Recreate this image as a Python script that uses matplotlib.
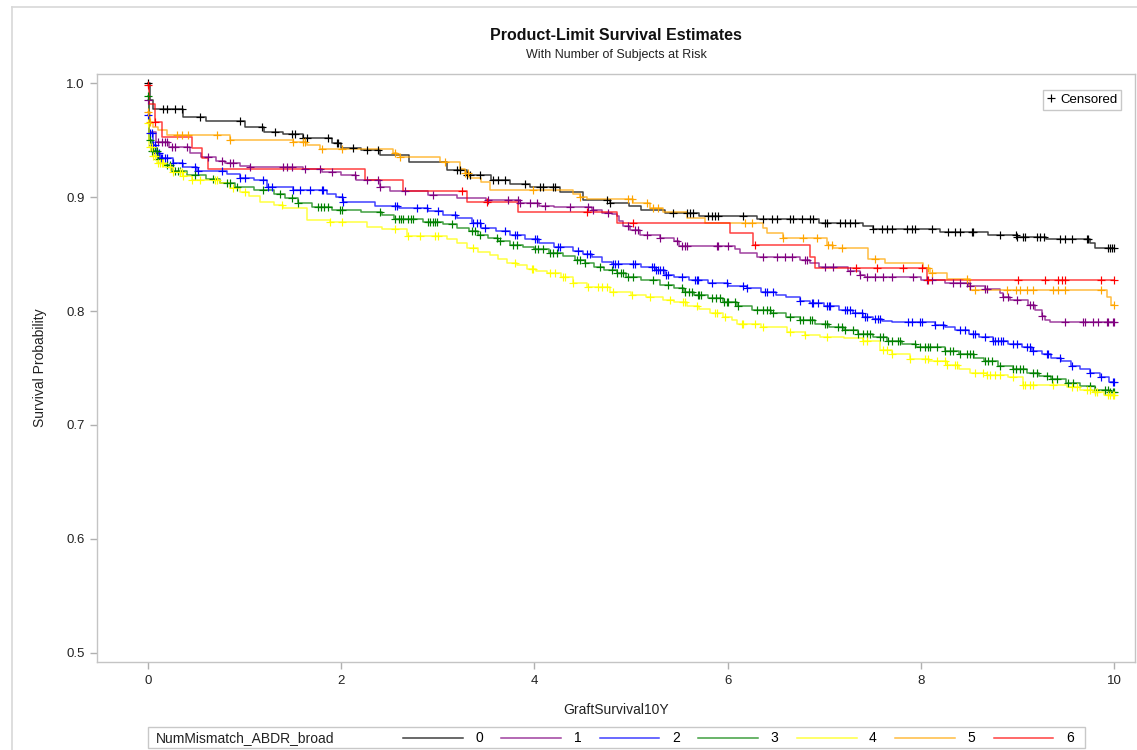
import numpy as np
import matplotlib
matplotlib.use("Agg")
import matplotlib.pyplot as plt
from matplotlib.lines import Line2D
from matplotlib.patches import Rectangle

plt.rcParams['font.family'] = ['Liberation Sans', 'DejaVu Sans']

groups = ["0", "1", "2", "3", "4", "5", "6"]
colors = ["#000000", "#800080", "#0000FF", "#008000", "#FFFF00", "#FFA500", "#FF0000"]

t0 = [0, 0.02, 0.05, 0.36, 0.6, 1.0, 1.2, 1.4, 1.6, 1.9, 2.0, 2.2, 2.4, 2.7, 3.1, 3.3, 3.55, 3.75,
      3.95, 4.26, 4.5, 4.78, 4.98, 5.1, 5.35, 5.7, 6.3, 6.95, 7.4, 7.5, 8.2, 8.7, 9.0, 9.3, 9.75, 9.8]
s0 = [1.0, 0.985, 0.977, 0.970, 0.967, 0.961, 0.957, 0.955, 0.952, 0.947, 0.943, 0.941, 0.937, 0.931,
      0.924, 0.919, 0.915, 0.911, 0.909, 0.904, 0.897, 0.895, 0.892, 0.889, 0.886, 0.883, 0.881, 0.877,
      0.875, 0.872, 0.869, 0.867, 0.865, 0.863, 0.860, 0.855]

t1 = [0, 0.01, 0.08, 0.22, 0.43, 0.55, 0.7, 0.8, 0.95, 1.06, 1.6, 1.8, 2.0, 2.15, 2.4, 2.5, 2.9, 3.2,
      3.5, 3.85, 4.05, 4.2, 4.6, 4.7, 4.8, 4.85, 4.88, 4.92, 4.99, 5.09, 5.3, 5.45, 5.5, 6.08, 6.13,
      6.3, 6.75, 6.85, 6.95, 7.25, 7.37, 7.42, 8.0, 8.25, 8.5, 8.66, 8.82, 8.85, 8.92, 9.11, 9.18,
      9.25, 9.29, 9.34]
s1 = [0.985, 0.957, 0.948, 0.944, 0.939, 0.935, 0.932, 0.930, 0.927, 0.926, 0.925, 0.922, 0.919,
      0.915, 0.909, 0.905, 0.902, 0.899, 0.897, 0.895, 0.892, 0.891, 0.889, 0.886, 0.885, 0.883,
      0.879, 0.875, 0.871, 0.867, 0.864, 0.861, 0.857, 0.854, 0.851, 0.847, 0.845, 0.842, 0.839,
      0.835, 0.832, 0.830, 0.827, 0.825, 0.822, 0.819, 0.816, 0.812, 0.810, 0.805, 0.801, 0.796,
      0.792, 0.790]

t2 = [0, 0.01, 0.05, 0.08, 0.12, 0.26, 0.36, 0.51, 0.82, 0.95, 1.1, 1.23, 1.5, 1.85, 1.95, 2.02,
      2.35, 2.6, 2.9, 3.05, 3.2, 3.35, 3.45, 3.6, 3.75, 3.9, 4.05, 4.2, 4.4, 4.5, 4.6, 4.7, 4.8, 5.1,
      5.25, 5.35, 5.45, 5.6, 5.8, 6.0, 6.2, 6.35, 6.5, 6.6, 6.75, 6.85, 7.0, 7.15, 7.3, 7.4, 7.5,
      7.6, 7.7, 8.15, 8.25, 8.35, 8.5, 8.6, 8.75, 8.9, 9.05, 9.15, 9.25, 9.35, 9.45, 9.55, 9.65,
      9.75, 9.85, 9.95]
s2 = [0.972, 0.956, 0.946, 0.939, 0.934, 0.930, 0.926, 0.923, 0.920, 0.917, 0.915, 0.909, 0.906,
      0.903, 0.900, 0.896, 0.892, 0.890, 0.888, 0.884, 0.882, 0.877, 0.873, 0.870, 0.867, 0.863,
      0.860, 0.856, 0.853, 0.850, 0.847, 0.843, 0.841, 0.839, 0.836, 0.832, 0.830, 0.827, 0.825,
      0.822, 0.820, 0.817, 0.814, 0.812, 0.809, 0.807, 0.804, 0.801, 0.798, 0.795, 0.793, 0.791,
      0.790, 0.788, 0.786, 0.783, 0.780, 0.777, 0.774, 0.771, 0.768, 0.765, 0.762, 0.759, 0.756,
      0.752, 0.749, 0.746, 0.742, 0.738]

t3 = [0, 0.01, 0.04, 0.1, 0.16, 0.25, 0.4, 0.6, 0.75, 0.9, 1.1, 1.3, 1.42, 1.55, 1.7, 1.9, 2.2,
      2.42, 2.55, 2.85, 3.05, 3.2, 3.32, 3.42, 3.52, 3.62, 3.75, 3.88, 4.0, 4.15, 4.3, 4.42, 4.52,
      4.62, 4.72, 4.85, 4.95, 5.1, 5.3, 5.45, 5.55, 5.65, 5.8, 5.95, 6.1, 6.25, 6.45, 6.6, 6.75,
      6.9, 7.05, 7.2, 7.35, 7.5, 7.65, 7.8, 7.95, 8.25, 8.4, 8.55, 8.65, 8.8, 8.95, 9.1, 9.22, 9.35,
      9.5, 9.65, 9.8, 9.95]
s3 = [0.989, 0.950, 0.940, 0.933, 0.928, 0.923, 0.919, 0.916, 0.912, 0.909, 0.906, 0.903, 0.899,
      0.895, 0.891, 0.889, 0.887, 0.884, 0.881, 0.878, 0.876, 0.873, 0.870, 0.867, 0.864, 0.861,
      0.858, 0.856, 0.854, 0.851, 0.848, 0.845, 0.842, 0.839, 0.836, 0.833, 0.830, 0.827, 0.823,
      0.820, 0.817, 0.814, 0.811, 0.808, 0.804, 0.801, 0.798, 0.795, 0.792, 0.789, 0.786, 0.783,
      0.780, 0.777, 0.774, 0.771, 0.768, 0.765, 0.762, 0.759, 0.756, 0.752, 0.749, 0.746, 0.743,
      0.740, 0.737, 0.734, 0.731, 0.729]

t4 = [0, 0.01, 0.05, 0.09, 0.18, 0.26, 0.36, 0.46, 0.75, 0.85, 0.95, 1.05, 1.16, 1.3, 1.4, 1.65,
      1.88, 2.27, 2.42, 2.68, 3.1, 3.2, 3.3, 3.42, 3.54, 3.62, 3.72, 3.82, 3.92, 4.02, 4.13, 4.28,
      4.4, 4.54, 4.78, 5.0, 5.15, 5.33, 5.45, 5.58, 5.7, 5.82, 5.95, 6.05, 6.1, 6.35, 6.61, 6.8,
      6.96, 7.2, 7.4, 7.58, 7.7, 7.89, 8.08, 8.27, 8.4, 8.51, 8.69, 8.9, 9.06, 9.51, 9.65, 9.78, 9.9]
s4 = [0.965, 0.944, 0.936, 0.930, 0.926, 0.922, 0.918, 0.915, 0.912, 0.908, 0.904, 0.901, 0.896,
      0.893, 0.890, 0.880, 0.878, 0.874, 0.872, 0.866, 0.863, 0.860, 0.855, 0.852, 0.849, 0.846,
      0.842, 0.840, 0.837, 0.835, 0.833, 0.830, 0.825, 0.821, 0.817, 0.814, 0.812, 0.810, 0.808,
      0.804, 0.802, 0.798, 0.795, 0.792, 0.789, 0.786, 0.782, 0.779, 0.777, 0.776, 0.774, 0.766,
      0.762, 0.758, 0.756, 0.753, 0.749, 0.746, 0.744, 0.742, 0.735, 0.733, 0.731, 0.729, 0.726]

t5 = [0, 0.02, 0.05, 0.1, 0.2, 0.85, 1.5, 1.65, 1.78, 2.54, 2.58, 2.61, 3.02, 3.23, 3.28, 3.33,
      3.45, 3.54, 4.40, 4.47, 4.54, 5.02, 5.2, 5.33, 5.58, 5.77, 6.37, 6.41, 6.57, 7.03, 7.09, 7.45,
      7.63, 8.02, 8.10, 8.27, 8.51, 9.93, 9.97]
s5 = [0.975, 0.966, 0.961, 0.959, 0.954, 0.950, 0.948, 0.946, 0.942, 0.939, 0.937, 0.935, 0.931,
      0.925, 0.921, 0.917, 0.913, 0.906, 0.903, 0.900, 0.898, 0.895, 0.890, 0.887, 0.882, 0.877,
      0.873, 0.868, 0.864, 0.858, 0.855, 0.846, 0.842, 0.838, 0.833, 0.828, 0.818, 0.812, 0.805]

t6 = [0, 0.01, 0.07, 0.14, 0.46, 0.56, 0.62, 2.25, 2.64, 3.30, 3.83, 4.86, 6.02, 6.26, 6.85, 6.90, 8.06]
s6 = [0.998, 0.982, 0.966, 0.953, 0.943, 0.934, 0.925, 0.915, 0.905, 0.896, 0.887, 0.877, 0.868,
      0.858, 0.847, 0.838, 0.827]

c0 = [0.0, 0.16, 0.20, 0.28, 0.35, 0.54, 0.95, 1.18, 1.31, 1.49, 1.52, 1.60, 1.65, 1.86, 1.96, 1.97,
      2.12, 2.27, 2.38, 3.20, 3.23, 3.30, 3.33, 3.44, 3.57, 3.62, 3.70, 3.90, 4.06, 4.09, 4.19, 4.21,
      4.75, 4.78, 5.43, 5.58, 5.61, 5.64, 5.80, 5.84, 5.87, 5.90, 6.16, 6.37, 6.46, 6.51, 6.65, 6.68,
      6.77, 6.85, 6.88, 7.01, 7.03, 7.16, 7.22, 7.27, 7.32, 7.51, 7.60, 7.65, 7.70, 7.86, 7.91, 7.94,
      8.12, 8.28, 8.35, 8.41, 8.53, 8.54, 8.82, 8.98, 9.00, 9.06, 9.08, 9.20, 9.23, 9.27, 9.44, 9.49,
      9.57, 9.72, 9.73, 9.94, 9.96, 9.98, 10.0]
c1 = [0.0, 0.10, 0.15, 0.18, 0.20, 0.25, 0.28, 0.40, 0.62, 0.77, 0.85, 0.88, 1.06, 1.40, 1.44, 1.49,
      1.63, 1.78, 1.90, 2.14, 2.27, 2.38, 2.40, 2.66, 2.95, 3.52, 3.73, 3.83, 3.85, 3.95, 4.03, 4.11,
      4.37, 4.55, 4.61, 4.76, 4.97, 5.04, 5.07, 5.17, 5.30, 5.48, 5.53, 5.56, 5.58, 5.89, 5.90, 6.00,
      6.37, 6.51, 6.59, 6.67, 6.80, 6.82, 7.01, 7.09, 7.27, 7.37, 7.44, 7.53, 7.61, 7.70, 7.92, 8.06,
      8.12, 8.33, 8.41, 8.48, 8.51, 8.66, 8.69, 8.85, 8.90, 9.00, 9.13, 9.16, 9.25, 9.49, 9.68, 9.70,
      9.78, 9.83, 9.93, 9.94, 9.99, 10.0]
c2 = [0.0, 0.02, 0.04, 0.05, 0.07, 0.09, 0.11, 0.13, 0.15, 0.18, 0.20, 0.26, 0.35, 0.49, 0.52, 0.77,
      0.95, 1.00, 1.19, 1.24, 1.28, 1.50, 1.57, 1.68, 1.80, 1.81, 2.01, 2.02, 2.56, 2.58, 2.78, 2.89,
      3.00, 3.18, 3.36, 3.41, 3.44, 3.49, 3.70, 3.80, 3.82, 4.01, 4.03, 4.24, 4.26, 4.45, 4.54, 4.58,
      4.81, 4.83, 4.87, 5.02, 5.04, 5.22, 5.24, 5.26, 5.28, 5.30, 5.33, 5.36, 5.38, 5.53, 5.66, 5.68,
      5.69, 5.84, 5.99, 6.16, 6.20, 6.39, 6.41, 6.47, 6.75, 6.87, 6.88, 6.94, 7.03, 7.05, 7.06, 7.22,
      7.24, 7.27, 7.32, 7.39, 7.42, 7.44, 7.53, 7.56, 7.58, 7.87, 7.91, 7.99, 8.01, 8.15, 8.23, 8.41,
      8.46, 8.54, 8.56, 8.66, 8.75, 8.77, 8.80, 8.83, 8.85, 8.95, 9.00, 9.10, 9.13, 9.16, 9.31, 9.32,
      9.44, 9.57, 9.75, 9.86, 9.99, 10.0]
c3 = [0.0, 0.02, 0.04, 0.05, 0.07, 0.09, 0.10, 0.20, 0.23, 0.28, 0.31, 0.33, 0.49, 0.67, 0.82, 0.85,
      0.92, 1.19, 1.37, 1.49, 1.55, 1.76, 1.79, 1.82, 1.86, 1.99, 2.01, 2.40, 2.56, 2.60, 2.62, 2.64,
      2.69, 2.72, 2.74, 2.90, 2.92, 2.95, 2.97, 2.99, 3.15, 3.35, 3.39, 3.44, 3.61, 3.64, 3.78, 3.82,
      4.01, 4.04, 4.09, 4.16, 4.19, 4.23, 4.44, 4.47, 4.52, 4.68, 4.80, 4.85, 4.90, 4.92, 4.97, 5.02,
      5.23, 5.38, 5.53, 5.56, 5.60, 5.63, 5.69, 5.70, 5.72, 5.84, 5.88, 5.92, 5.96, 5.99, 6.00, 6.08,
      6.11, 6.30, 6.37, 6.41, 6.44, 6.47, 6.65, 6.75, 6.78, 6.85, 6.87, 7.01, 7.03, 7.14, 7.18, 7.22,
      7.30, 7.35, 7.40, 7.44, 7.47, 7.58, 7.61, 7.66, 7.70, 7.76, 7.78, 7.94, 7.99, 8.04, 8.07, 8.10,
      8.17, 8.25, 8.30, 8.33, 8.41, 8.48, 8.51, 8.54, 8.66, 8.70, 8.74, 8.82, 8.95, 8.99, 9.03, 9.06,
      9.16, 9.20, 9.31, 9.36, 9.41, 9.52, 9.58, 9.75, 9.80, 9.91, 9.94, 9.96, 9.99, 10.0]
c4 = [0.0, 0.02, 0.04, 0.05, 0.07, 0.10, 0.12, 0.14, 0.16, 0.23, 0.26, 0.33, 0.35, 0.36, 0.46, 0.54,
      0.69, 0.71, 0.88, 1.00, 1.39, 1.88, 2.01, 2.56, 2.69, 2.82, 2.97, 3.00, 3.36, 3.80, 3.98, 3.99,
      4.16, 4.21, 4.30, 4.32, 4.40, 4.55, 4.66, 4.70, 4.75, 4.81, 5.01, 5.20, 5.40, 5.54, 5.56, 5.68,
      5.87, 5.89, 5.97, 6.15, 6.16, 6.28, 6.37, 6.65, 6.80, 7.03, 7.40, 7.44, 7.61, 7.65, 7.70, 7.89,
      8.04, 8.07, 8.17, 8.25, 8.27, 8.35, 8.37, 8.56, 8.64, 8.69, 8.72, 8.77, 8.82, 8.95, 9.06, 9.08,
      9.13, 9.16, 9.37, 9.57, 9.62, 9.72, 9.75, 9.80, 9.82, 9.94, 9.96, 9.99, 10.0]
c5 = [0.0, 0.02, 0.30, 0.35, 0.41, 0.71, 0.85, 1.50, 1.60, 1.63, 1.80, 2.01, 2.56, 2.61, 3.07, 3.28,
      3.31, 3.99, 4.47, 4.97, 5.01, 5.17, 5.23, 5.28, 6.18, 6.25, 6.57, 6.78, 6.93, 7.04, 7.08, 7.18,
      7.53, 8.07, 8.12, 8.48, 8.56, 8.89, 8.98, 9.03, 9.10, 9.16, 9.37, 9.42, 9.49, 9.86, 10.0]
c6 = [0.0, 0.07, 3.25, 3.51, 4.54, 5.02, 6.28, 7.33, 7.55, 7.82, 8.01, 8.07, 9.01, 9.29, 9.42, 9.46,
      9.49, 9.86, 10.0]

times = [t0, t1, t2, t3, t4, t5, t6]
surv = [s0, s1, s2, s3, s4, s5, s6]
cens = [c0, c1, c2, c3, c4, c5, c6]
t_end = 10.0

fig = plt.figure(figsize=(11.37, 7.5), dpi=100)
ax = fig.add_axes([97 / 1137, 1 - 662 / 750, (1135 - 97) / 1137, (662 - 74) / 750])

for g, col, tt, ss, cc in zip(groups, colors, times, surv, cens):
    tt = np.array(tt, float)
    ss = np.array(ss, float)
    ax.step(np.append(tt, t_end), np.append(ss, ss[-1]), where='post', color=col,
            lw=1.1, alpha=0.75, zorder=2)
    cc = np.array(cc, float)
    idx = np.searchsorted(tt, cc, side='right') - 1
    ax.plot(cc, ss[idx], ls='none', marker='+', ms=6, mew=0.85, color=col, zorder=3)

ax.set_xlim(-0.528, 10.217)
ax.set_ylim(0.4921, 1.0079)
ax.set_xticks([0, 2, 4, 6, 8, 10])
ax.set_yticks([0.5, 0.6, 0.7, 0.8, 0.9, 1.0])
ax.set_yticklabels(["0.5", "0.6", "0.7", "0.8", "0.9", "1.0"])
for sp in ax.spines.values():
    sp.set_color('#c4c4c4')
    sp.set_linewidth(1.0)
ax.tick_params(axis='both', direction='out', length=5, width=1, color='#b0b0b0',
               labelsize=9.5, labelcolor='#222222', pad=4)

ax.set_xlabel("GraftSurvival10Y", fontsize=10, color='#222222', labelpad=12)
ax.set_ylabel("Survival Probability", fontsize=10, color='#222222', labelpad=14)

fig.text(616 / 1137, 1 - 36 / 750, "Product-Limit Survival Estimates", ha='center', va='center',
         fontsize=11.5, fontweight='bold', color='#111111')
fig.text(616 / 1137, 1 - 55 / 750, "With Number of Subjects at Risk", ha='center', va='center',
         fontsize=9, color='#222222')

cens_handle = Line2D([], [], ls='none', marker='+', ms=6, mew=0.85, color='black')
leg = ax.legend([cens_handle], ["Censored"], loc='upper right',
                fontsize=9.5, handlelength=0.6, handletextpad=0.4,
                borderpad=0.3, fancybox=False, edgecolor='#c8c8c8', framealpha=1)
leg.get_frame().set_linewidth(1.0)
leg.set_bbox_to_anchor((1 - 7 / 1038, 1 - 9 / 588), transform=ax.transAxes)

# bottom legend
fig.patches.append(Rectangle((148 / 1137, 1 - 748 / 750), (1085 - 148) / 1137, 21 / 750,
                             transform=fig.transFigure, fill=False, edgecolor='#c8c8c8', lw=1.0))
fig.text(156 / 1137, 1 - 738.5 / 750, "NumMismatch_ABDR_broad", ha='left', va='center',
         fontsize=10, color='#222222')
handles = [Line2D([], [], color=c, lw=1.1, alpha=0.75) for c in colors]
fig.legend(handles, groups, loc='center left', bbox_to_anchor=(403 / 1137, 1 - 738.5 / 750),
           ncol=7, frameon=False, fontsize=10, handlelength=4.3, handletextpad=0.9,
           columnspacing=1.33, borderpad=0, borderaxespad=0)

# outer figure border (left and top)
fig.lines.append(Line2D([12 / 1137, 12 / 1137], [0, 1 - 7 / 750], transform=fig.transFigure,
                        color='#d8d8d8', lw=1.2))
fig.lines.append(Line2D([12 / 1137, 1], [1 - 7 / 750, 1 - 7 / 750], transform=fig.transFigure,
                        color='#d8d8d8', lw=1.2))

fig.savefig("out.png", dpi=100)
